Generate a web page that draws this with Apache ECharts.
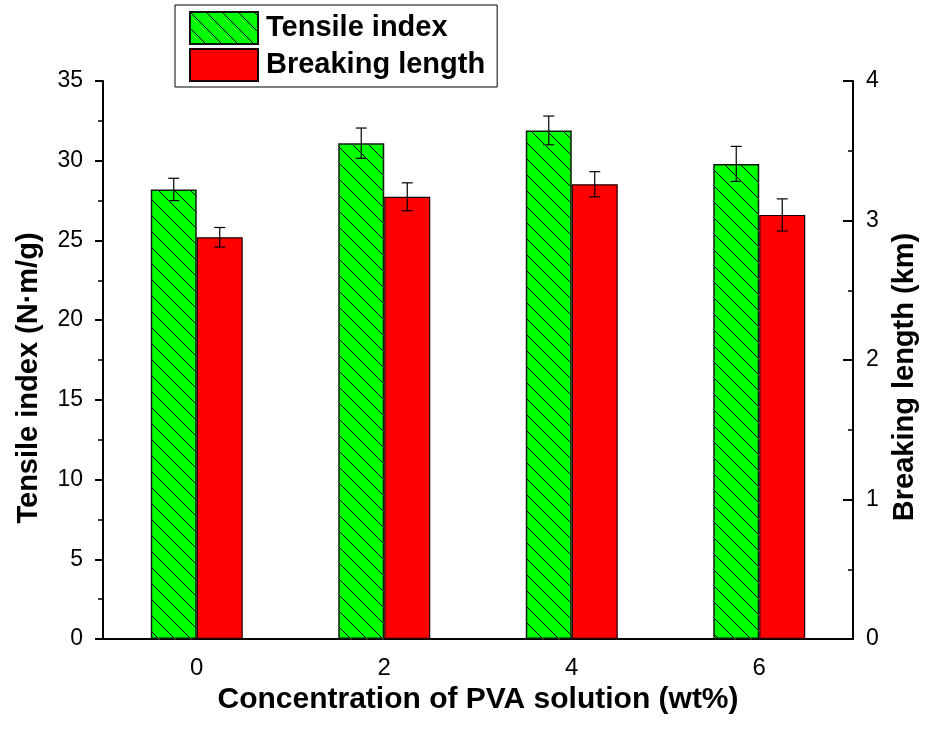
<!DOCTYPE html>
<html>
<head>
<meta charset="utf-8">
<script src="https://cdn.jsdelivr.net/npm/echarts@6/dist/echarts.min.js"></script>
<style>
html,body{margin:0;padding:0;background:#fff;}
#chart{width:927px;height:736px;}
</style>
</head>
<body>
<div id="chart"></div>
<script>
const categories = ['0', '2', '4', '6'];
const tensileIndex = [28.2, 31.1, 31.9, 29.8];
const tensileErr = [0.7, 0.95, 0.9, 1.1];
const breakingLength = [2.88, 3.17, 3.26, 3.04];
const breakingErr = [0.07, 0.10, 0.09, 0.115];
const leftTicks = { min: 0, max: 35, interval: 5 };
const rightTicks = { min: 0, max: 4, interval: 1 };

const FONT = '"Liberation Sans", Arial, sans-serif';

// hatch pattern for the green bars
const tile = document.createElement('canvas');
tile.width = 16; tile.height = 16;
const tc = tile.getContext('2d');
tc.fillStyle = '#00ff00';
tc.fillRect(0, 0, 16, 16);
tc.strokeStyle = '#000';
tc.lineWidth = 1;
tc.beginPath();
tc.moveTo(-2, -2); tc.lineTo(18, 18);
tc.moveTo(-18, -2); tc.lineTo(2, 18);
tc.moveTo(14, -2); tc.lineTo(34, 18);
tc.stroke();
const hatch = { image: tile, repeat: 'repeat' };

const BAR_W = 46;

function errRender(offsetSign) {
  return function (params, api) {
    const x = api.value(0);
    const lo = api.coord([x, api.value(1)]);
    const hi = api.coord([x, api.value(2)]);
    const cx = lo[0] + offsetSign * BAR_W / 2;
    const cap = 5.5;
    const style = { stroke: '#000', lineWidth: 1.2, fill: null };
    return {
      type: 'group',
      children: [
        { type: 'line', shape: { x1: cx, y1: lo[1], x2: cx, y2: hi[1] }, style },
        { type: 'line', shape: { x1: cx - cap, y1: lo[1], x2: cx + cap, y2: lo[1] }, style },
        { type: 'line', shape: { x1: cx - cap, y1: hi[1], x2: cx + cap, y2: hi[1] }, style }
      ]
    };
  };
}

const tensileErrData = categories.map((c, i) => [i, tensileIndex[i] - tensileErr[i], tensileIndex[i] + tensileErr[i]]);
const breakingErrData = categories.map((c, i) => [i, breakingLength[i] - breakingErr[i], breakingLength[i] + breakingErr[i]]);

const gridRect = { left: 103, top: 81, width: 752, height: 558 };

const chart = echarts.init(document.getElementById('chart'));
chart.setOption({
  backgroundColor: '#fff',
  animation: false,
  textStyle: { fontFamily: FONT, color: '#000' },
  grid: [
    Object.assign({}, gridRect),
    Object.assign({}, gridRect)
  ],
  legend: {
    orient: 'vertical',
    left: 175,
    top: 5,
    padding: [6, 12, 5, 14],
    itemGap: 3,
    itemWidth: 68,
    itemHeight: 32,
    borderColor: '#000',
    borderWidth: 1,
    backgroundColor: '#fff',
    icon: 'rect',
    textStyle: { fontFamily: FONT, fontWeight: 'bold', fontSize: 29, color: '#000', lineHeight: 32, padding: [0, 0, 0, 3] },
    data: ['Tensile index', 'Breaking length']
  },
  xAxis: [
    {
      type: 'category',
      gridIndex: 0,
      data: categories,
      boundaryGap: true,
      name: 'Concentration of PVA solution (wt%)',
      nameLocation: 'middle',
      nameGap: 34,
      nameTextStyle: { fontFamily: FONT, fontWeight: 'bold', fontSize: 30, color: '#000' },
      axisLine: { lineStyle: { color: '#000', width: 2 } },
      axisTick: { alignWithLabel: true, length: 8, lineStyle: { color: '#000', width: 2 } },
      axisLabel: { fontFamily: FONT, fontSize: 24, color: '#000', margin: 17 },
      splitLine: { show: false }
    },
    {
      type: 'category',
      gridIndex: 1,
      data: categories,
      boundaryGap: true,
      axisLine: { show: false },
      axisTick: { alignWithLabel: false, length: 5, lineStyle: { color: '#000', width: 1.5 } },
      axisLabel: { show: false },
      splitLine: { show: false }
    }
  ],
  yAxis: [
    {
      type: 'value',
      gridIndex: 0,
      position: 'left',
      min: leftTicks.min, max: leftTicks.max, interval: leftTicks.interval,
      name: 'Tensile index (N·m/g)',
      nameLocation: 'middle',
      nameRotate: 90,
      nameGap: 60,
      nameTextStyle: { fontFamily: FONT, fontWeight: 'bold', fontSize: 29, color: '#000', padding: [0, 36, 0, 0] },
      axisLine: { show: true, lineStyle: { color: '#000', width: 2 } },
      axisTick: { show: true, length: 8, lineStyle: { color: '#000', width: 2 } },
      minorTick: { show: true, splitNumber: 2, length: 5, lineStyle: { color: '#000', width: 1.5 } },
      axisLabel: { fontFamily: FONT, fontSize: 23, color: '#000', margin: 20 },
      splitLine: { show: false }
    },
    {
      type: 'value',
      gridIndex: 0,
      position: 'right',
      min: rightTicks.min, max: rightTicks.max, interval: rightTicks.interval,
      name: 'Breaking length (km)',
      nameLocation: 'middle',
      nameRotate: 90,
      nameGap: 37,
      nameTextStyle: { fontFamily: FONT, fontWeight: 'bold', fontSize: 29, color: '#000', padding: [0, 34, 0, 0] },
      axisLine: { show: true, lineStyle: { color: '#000', width: 2 } },
      axisTick: { show: true, inside: true, length: 10, lineStyle: { color: '#000', width: 2 } },
      minorTick: { show: true, splitNumber: 2, length: 5, lineStyle: { color: '#000', width: 1.5 } },
      axisLabel: { fontFamily: FONT, fontSize: 23, color: '#000', margin: 13 },
      splitLine: { show: false }
    },
    {
      type: 'value',
      gridIndex: 1,
      show: false,
      splitLine: { show: false }
    }
  ],
  series: [
    {
      name: 'Tensile index',
      type: 'bar',
      xAxisIndex: 0,
      yAxisIndex: 0,
      barWidth: BAR_W,
      barGap: '0%',
      data: tensileIndex,
      itemStyle: { color: hatch, borderColor: '#0a1a0a', borderWidth: 1.5 },
      z: 2
    },
    {
      name: 'Breaking length',
      type: 'bar',
      xAxisIndex: 0,
      yAxisIndex: 1,
      barWidth: BAR_W,
      barGap: '0%',
      data: breakingLength,
      itemStyle: { color: '#ff0000', borderColor: '#1a0000', borderWidth: 1.2 },
      z: 2
    },
    {
      type: 'custom',
      xAxisIndex: 0,
      yAxisIndex: 0,
      renderItem: errRender(-1),
      data: tensileErrData,
      encode: { x: 0, y: [1, 2] },
      z: 5
    },
    {
      type: 'custom',
      xAxisIndex: 0,
      yAxisIndex: 1,
      renderItem: errRender(1),
      data: breakingErrData,
      encode: { x: 0, y: [1, 2] },
      z: 5
    }
  ]
});
</script>
</body>
</html>
